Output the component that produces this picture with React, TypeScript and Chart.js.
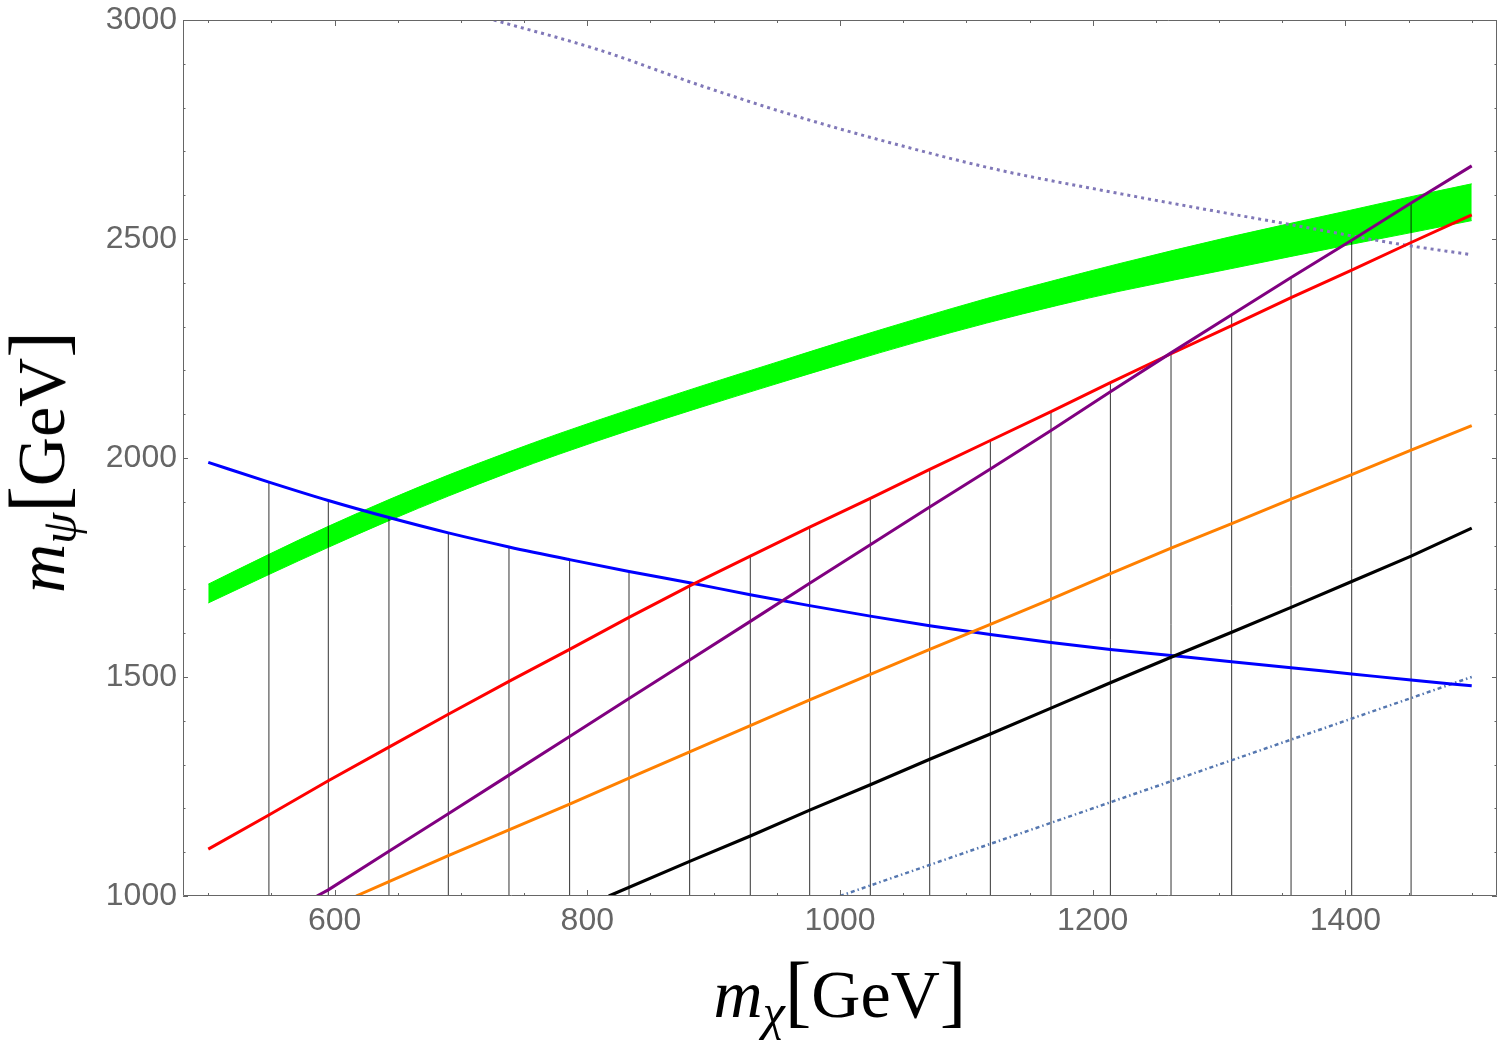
import { useEffect, useRef } from "react";
import { Chart, registerables } from "chart.js";

Chart.register(...registerables);

// axis ticks
const xTicks = [600, 800, 1000, 1200, 1400];
const yTicks = [1000, 1500, 2000, 2500, 3000];

// blue curve (falling)
const blueX = [500, 548, 595, 643, 690, 738, 786, 833, 881, 929, 976, 1024, 1071, 1119, 1167, 1214, 1262, 1310, 1357, 1405, 1452, 1500];
const blueY = [1990, 1945, 1903, 1864, 1829, 1797, 1768, 1741, 1715, 1688, 1663, 1639, 1617, 1597, 1579, 1563, 1549, 1535, 1521, 1507, 1493, 1480];

// red curve
const redX = [500, 548, 595, 643, 690, 738, 786, 833, 881, 929, 976, 1024, 1071, 1119, 1167, 1214, 1262, 1310, 1357, 1405, 1452, 1500];
const redY = [1107, 1185, 1263, 1340, 1415, 1490, 1563, 1636, 1708, 1776, 1842, 1908, 1974, 2040, 2106, 2172, 2238, 2302, 2366, 2429, 2492, 2555];

// purple curve
const purpleX = [586, 595, 643, 690, 738, 786, 833, 881, 929, 976, 1024, 1071, 1119, 1167, 1214, 1262, 1310, 1357, 1405, 1452, 1500];
const purpleY = [1000, 1014, 1102, 1188, 1276, 1364, 1451, 1539, 1627, 1714, 1802, 1888, 1975, 2063, 2151, 2240, 2327, 2412, 2497, 2582, 2667];

// orange curve
const orangeX = [617, 643, 690, 738, 786, 833, 881, 929, 976, 1024, 1071, 1119, 1167, 1214, 1262, 1310, 1357, 1405, 1452, 1500];
const orangeY = [1000, 1033, 1092, 1151, 1210, 1269, 1329, 1389, 1448, 1506, 1563, 1620, 1678, 1736, 1794, 1850, 1906, 1962, 2018, 2074];

// black curve
const blackX = [817, 881, 929, 976, 1024, 1071, 1119, 1167, 1214, 1262, 1310, 1357, 1405, 1452, 1500];
const blackY = [1000, 1079, 1137, 1196, 1254, 1312, 1370, 1429, 1487, 1545, 1602, 1659, 1718, 1776, 1840];

// dotted curve at the top
const dotX = [726, 809, 888, 967, 1046, 1125, 1204, 1283, 1362, 1441, 1500];
const dotY = [3000, 2932, 2852, 2779, 2715, 2658, 2613, 2571, 2530, 2489, 2464];

// dot-dashed line
const dashX = [1000, 1500];
const dashY = [1000, 1500];

// green band
const greenX = [500, 548, 595, 643, 690, 738, 777, 834, 890, 947, 1003, 1060, 1116, 1173, 1220, 1309, 1403, 1451, 1500];
const greenHi = [1712, 1780, 1844, 1905, 1961, 2014, 2055, 2111, 2164, 2216, 2267, 2317, 2364, 2408, 2443, 2505, 2565, 2596, 2626];
const greenLo = [1669, 1734, 1796, 1857, 1913, 1967, 2008, 2064, 2116, 2167, 2216, 2264, 2308, 2349, 2380, 2432, 2487, 2514, 2542];

// hatching: vertical lines from the bottom up to the excluded boundary
const hatchBase = 1000;
const hatchX = [548, 595, 643, 690, 738, 786, 833, 881, 929, 976, 1024, 1071, 1119, 1167, 1214, 1262, 1310, 1357, 1405, 1452];
const hatchTop = [1945, 1903, 1864, 1829, 1797, 1768, 1741, 1715, 1776, 1842, 1908, 1974, 2040, 2106, 2172, 2240, 2327, 2412, 2497, 2582];

const pts = (xs: number[], ys: number[]) => xs.map((x, i) => ({ x, y: ys[i] }));

const hatchData = hatchX.flatMap((x, i) => [
  { x, y: hatchBase },
  { x, y: hatchTop[i] },
  { x, y: null },
]);

const framePlugin = {
  id: "frame",
  afterDatasetsDraw(chart: any) {
    const { ctx, chartArea: a } = chart;
    const xs = chart.scales.x;
    const ys = chart.scales.y;
    ctx.save();
    ctx.strokeStyle = "#666";
    ctx.lineWidth = 1;
    ctx.beginPath();
    ctx.rect(a.left + 0.5, a.top + 0.5, a.right - a.left - 1, a.bottom - a.top - 1);
    for (let v = 500; v <= 1500; v += 50) {
      const p = Math.round(xs.getPixelForValue(v)) + 0.5;
      const len = v % 200 === 0 ? 6 : 3;
      ctx.moveTo(p, a.bottom);
      ctx.lineTo(p, a.bottom - len);
      ctx.moveTo(p, a.top);
      ctx.lineTo(p, a.top + len);
    }
    for (let v = 1000; v <= 3000; v += 100) {
      const p = Math.round(ys.getPixelForValue(v)) + 0.5;
      const len = v % 500 === 0 ? 5 : 2.5;
      ctx.moveTo(a.left, p);
      ctx.lineTo(a.left + len, p);
      ctx.moveTo(a.right, p);
      ctx.lineTo(a.right - len, p);
    }
    ctx.stroke();
    ctx.restore();
  },
};

const tickFont = { family: "'Liberation Sans', Arial, sans-serif", size: 32 };

const noPad = (s: any) => {
  s.paddingTop = 0;
  s.paddingBottom = 0;
  s.paddingLeft = 0;
  s.paddingRight = 0;
};

export default function App() {
  const canvasRef = useRef<HTMLCanvasElement>(null);
  const chartRef = useRef<Chart | null>(null);

  useEffect(() => {
    const canvas = canvasRef.current;
    if (!canvas) return;
    const ctx = canvas.getContext("2d");
    if (!ctx) return;
    if (chartRef.current) chartRef.current.destroy();

    const line = (data: any[], color: string, extra: any = {}) => ({
      data,
      borderColor: color,
      backgroundColor: color,
      borderWidth: 3,
      pointRadius: 0,
      fill: false,
      order: 1,
      ...extra,
    });

    chartRef.current = new Chart(ctx, {
      type: "line",
      data: {
        datasets: [
          {
            data: pts(greenX, greenHi),
            borderColor: "#00ff00",
            backgroundColor: "#00ff00",
            borderWidth: 1,
            pointRadius: 0,
            fill: "+1",
            cubicInterpolationMode: "monotone",
            order: 10,
          },
          {
            data: pts(greenX, greenLo),
            borderColor: "#00ff00",
            borderWidth: 1,
            pointRadius: 0,
            fill: false,
            cubicInterpolationMode: "monotone",
            order: 10,
          },
          {
            data: hatchData,
            borderColor: "rgba(0,0,0,0.8)",
            borderWidth: 1,
            pointRadius: 0,
            fill: false,
            spanGaps: false,
            order: 5,
          },
          line(pts(blackX, blackY), "#000000", { borderWidth: 3.2 }),
          line(pts(orangeX, orangeY), "#ff8000"),
          line(pts(purpleX, purpleY), "#800080"),
          line(pts(redX, redY), "#ff0000"),
          line(pts(blueX, blueY), "#0000ff", { cubicInterpolationMode: "monotone" }),
          line(pts(dotX, dotY), "#8078b8", {
            borderDash: [3, 4],
            borderWidth: 3,
            cubicInterpolationMode: "monotone",
          }),
          line(pts(dashX, dashY), "#5577b0", { borderDash: [4, 3, 1.5, 3], borderWidth: 2.5 }),
        ],
      },
      options: {
        animation: false,
        responsive: true,
        maintainAspectRatio: false,
        layout: { padding: { top: 20, right: 3, left: 0, bottom: 0 } },
        plugins: {
          legend: { display: false },
          tooltip: { enabled: false },
        },
        scales: {
          x: {
            type: "linear",
            min: 480,
            max: 1520,
            grid: { display: false, drawTicks: false },
            border: { display: false },
            afterBuildTicks: (s: any) => {
              s.ticks = xTicks.map((value) => ({ value }));
            },
            afterFit: (s: any) => {
              s.height = 149;
              noPad(s);
            },
            ticks: {
              color: "#666",
              font: tickFont,
              padding: 6,
              maxRotation: 0,
              autoSkip: false,
              callback: (v: any) => String(v),
            },
          },
          y: {
            type: "linear",
            min: 1000,
            max: 3000,
            grid: { display: false, drawTicks: false },
            border: { display: false },
            afterBuildTicks: (s: any) => {
              s.ticks = yTicks.map((value) => ({ value }));
            },
            afterFit: (s: any) => {
              s.width = 183;
              noPad(s);
            },
            ticks: {
              color: "#666",
              font: tickFont,
              padding: 6,
              autoSkip: false,
              callback: (v: any) => String(v),
            },
          },
        },
      },
      plugins: [framePlugin],
    });

    return () => {
      if (chartRef.current) {
        chartRef.current.destroy();
        chartRef.current = null;
      }
    };
  }, []);

  const titleFont = "'Liberation Serif', 'Times New Roman', serif";
  const bracket = { fontSize: 80 };
  const titleBox = {
    fontFamily: titleFont,
    fontSize: 68,
    lineHeight: "80px",
    whiteSpace: "nowrap" as const,
    color: "#000",
  };

  return (
    <div style={{ position: "absolute", left: 0, top: 0, width: 1500, height: 1045, background: "#fff" }}>
      <div style={{ position: "absolute", left: 0, top: 0, width: 1500, height: 1045 }}>
        <canvas ref={canvasRef} />
      </div>
      <div
        style={{
          ...titleBox,
          position: "absolute",
          left: 183,
          width: 1314,
          top: 950,
          textAlign: "center",
        }}
      >
        <span style={{ fontStyle: "italic" }}>m</span>
        <span style={{ fontStyle: "italic", fontSize: 50, position: "relative", top: 12 }}>χ</span>
        <span style={bracket}>[</span>
        <span>GeV</span>
        <span style={bracket}>]</span>
      </div>
      <div
        style={{
          ...titleBox,
          position: "absolute",
          left: 42,
          top: 462,
          transform: "translate(-50%, -50%) rotate(-90deg)",
        }}
      >
        <span style={{ fontStyle: "italic" }}>m</span>
        <span style={{ fontStyle: "italic", fontSize: 50, position: "relative", top: 12 }}>ψ</span>
        <span style={bracket}>[</span>
        <span>GeV</span>
        <span style={bracket}>]</span>
      </div>
    </div>
  );
}
